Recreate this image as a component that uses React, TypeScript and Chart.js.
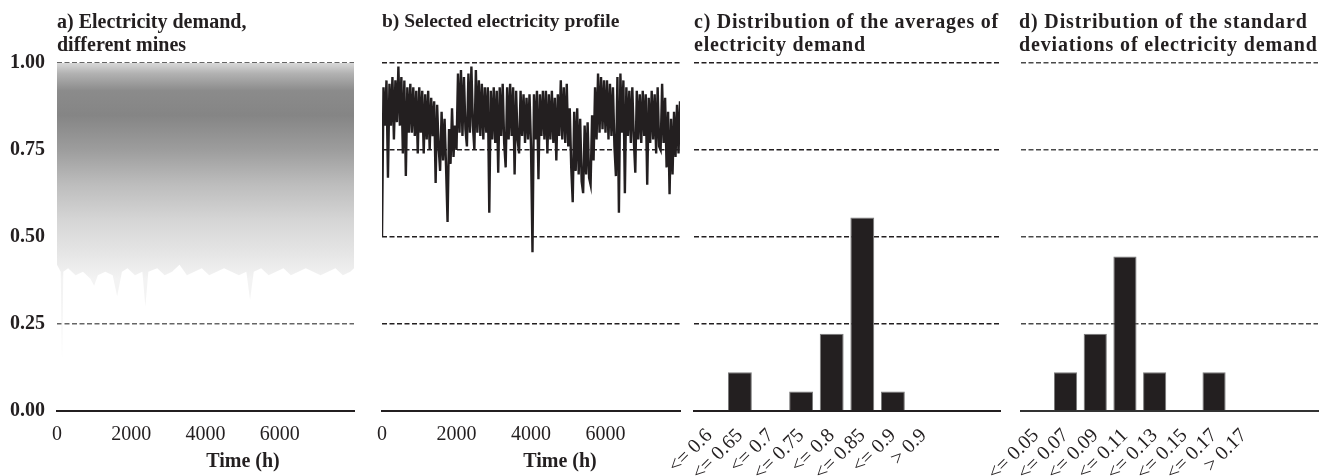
import React, { useEffect, useRef } from 'react';
import { Chart, registerables } from 'chart.js';

Chart.register(...registerables);

const FONT = "'Liberation Serif', 'Times New Roman', serif";
const INK = '#231f20';

// ---------- data ----------
const shareTicks = [0, 0.25, 0.5, 0.75, 1.0];
const timeTicks = [0, 2000, 4000, 6000];
const timeMax = 8000;

// a) envelope of all mine profiles (lower edge; upper edge is 1.0)
const envelopeHours = [0, 100, 135, 170, 300, 500, 700, 900, 1000, 1100, 1300, 1500, 1620, 1750, 1900, 2100, 2300, 2380, 2460, 2700, 2900, 3100, 3300, 3500, 3700, 3900, 4100, 4300, 4500, 4700, 4900, 5100, 5200, 5300, 5500, 5700, 5900, 6100, 6300, 6500, 6700, 6900, 7100, 7300, 7500, 7700, 7900, 8000];
const envelopeLow = [
  0.42, 0.40, 0.15, 0.40, 0.41,
  0.39, 0.40, 0.38, 0.36, 0.39,
  0.40, 0.39, 0.33, 0.40, 0.41,
  0.39, 0.40, 0.30, 0.40, 0.41,
  0.39, 0.40, 0.42, 0.39, 0.40,
  0.41, 0.39, 0.40, 0.41, 0.40,
  0.39, 0.40, 0.32, 0.40, 0.41,
  0.39, 0.40, 0.41, 0.39, 0.40,
  0.41, 0.40, 0.39, 0.40, 0.41,
  0.39, 0.40, 0.41,
];
const envelopeHigh = 1.0;
// gray density of the overlaid profiles (value, colour)
const densityStops: [number, string][] = [
  [0.38, '#f3f3f3'], [0.45, '#e6e6e6'], [0.55, '#d5d5d5'], [0.65, '#bdbdbd'],
  [0.75, '#9d9d9d'], [0.85, '#858585'], [0.92, '#8b8b8b'], [0.97, '#b2b2b2'], [1.0, '#d8d8d8'],
];
// individual light / dark profile traces inside the envelope (every 100 h)
const lightTraceStart = 0;
const darkTraceStart = 50;
const traceStepHours = 100;
const lightTrace = [
  1.0, 0.74, 1.0, 0.82, 1.0, 0.68, 1.0, 0.86, 1.0, 0.78,
  1.0, 0.64, 1.0, 0.84, 1.0, 0.72, 1.0, 0.88, 1.0, 0.70,
  1.0, 0.80, 1.0, 0.62, 1.0, 0.85, 1.0, 0.76, 1.0, 0.90,
  1.0, 0.66, 1.0, 0.82, 1.0, 0.74, 1.0, 0.87, 1.0, 0.69,
  1.0, 0.79, 1.0, 0.60, 1.0, 0.84, 1.0, 0.73, 1.0, 0.89,
  1.0, 0.67, 1.0, 0.81, 1.0, 0.75, 1.0, 0.86, 1.0, 0.63,
  1.0, 0.83, 1.0, 0.71, 1.0, 0.88, 1.0, 0.77, 1.0, 0.65,
  1.0, 0.85, 1.0, 0.72, 1.0, 0.80, 1.0, 0.68, 1.0, 0.84,
  1.0,
];
const darkTrace = [
  0.52, 0.93, 0.60, 0.90, 0.47, 0.95, 0.58, 0.91, 0.50, 0.94,
  0.62, 0.89, 0.45, 0.96, 0.55, 0.92, 0.49, 0.90, 0.61, 0.95,
  0.53, 0.91, 0.44, 0.94, 0.59, 0.89, 0.48, 0.96, 0.56, 0.92,
  0.63, 0.90, 0.46, 0.95, 0.54, 0.91, 0.51, 0.93, 0.60, 0.89,
  0.47, 0.96, 0.57, 0.92, 0.50, 0.90, 0.62, 0.94, 0.45, 0.91,
  0.55, 0.95, 0.49, 0.89, 0.58, 0.93, 0.52, 0.96, 0.46, 0.90,
  0.61, 0.92, 0.48, 0.95, 0.56, 0.91, 0.53, 0.94, 0.44, 0.89,
  0.59, 0.93, 0.50, 0.96, 0.57, 0.90, 0.47, 0.92, 0.54, 0.95,
];

// b) selected profile, one value every 40 h
const profileStepHours = 40;
const profileValues = [
  0.50, 0.93, 0.82, 0.95, 0.67, 0.94, 0.82, 0.96, 0.78, 0.95,
  0.83, 0.99, 0.82, 0.96, 0.74, 0.95, 0.675, 0.93, 0.80, 0.94,
  0.80, 0.93, 0.79, 0.92, 0.74, 0.93, 0.80, 0.92, 0.74, 0.91,
  0.78, 0.92, 0.75, 0.90, 0.79, 0.89, 0.655, 0.88, 0.76, 0.69,
  0.86, 0.72, 0.84, 0.70, 0.543, 0.81, 0.71, 0.87, 0.73, 0.82,
  0.75, 0.97, 0.80, 0.98, 0.79, 0.96, 0.81, 0.76, 0.97, 0.80,
  0.99, 0.82, 0.75, 0.98, 0.80, 0.95, 0.79, 0.94, 0.78, 0.93,
  0.80, 0.93, 0.57, 0.92, 0.78, 0.93, 0.77, 0.92, 0.685, 0.93,
  0.79, 0.94, 0.77, 0.70, 0.93, 0.78, 0.94, 0.79, 0.93, 0.68,
  0.92, 0.78, 0.74, 0.92, 0.79, 0.91, 0.77, 0.90, 0.78, 0.91,
  0.76, 0.456, 0.91, 0.78, 0.92, 0.666, 0.91, 0.79, 0.92, 0.78,
  0.92, 0.74, 0.91, 0.78, 0.92, 0.77, 0.90, 0.72, 0.91, 0.79,
  0.95, 0.78, 0.93, 0.77, 0.94, 0.76, 0.87, 0.70, 0.60, 0.86,
  0.69, 0.87, 0.68, 0.84, 0.66, 0.626, 0.82, 0.68, 0.83, 0.67,
  0.65, 0.85, 0.72, 0.93, 0.78, 0.97, 0.80, 0.96, 0.81, 0.95,
  0.80, 0.95, 0.78, 0.94, 0.79, 0.93, 0.76, 0.675, 0.96, 0.57,
  0.97, 0.80, 0.95, 0.626, 0.93, 0.79, 0.92, 0.77, 0.93, 0.78,
  0.685, 0.92, 0.78, 0.91, 0.77, 0.92, 0.79, 0.91, 0.65, 0.90,
  0.77, 0.92, 0.78, 0.91, 0.74, 0.93, 0.76, 0.75, 0.94, 0.77,
  0.90, 0.70, 0.86, 0.623, 0.84, 0.68, 0.86, 0.73, 0.88, 0.74,
  0.89,
];

// c) distribution of averages
const avgCategories = ['<= 0.6', '<= 0.65', '<= 0.7', '<= 0.75', '<= 0.8', '<= 0.85', '<= 0.9', '> 0.9', '', ''];
const avgShares = [null, 0.111, null, 0.056, 0.222, 0.556, 0.056, null, null, null];

// d) distribution of standard deviations
const sdCategories = ['<= 0.05', '<= 0.07', '<= 0.09', '<= 0.11', '<= 0.13', '<= 0.15', '<= 0.17', '> 0.17', '', ''];
const sdShares = [null, 0.111, 0.222, 0.444, 0.111, null, 0.111, null, null, null];

// ---------- helpers ----------
const H = 476;

function fixBottomAxis(s: any) {
  s.height = 65;
  s.paddingLeft = 0;
  s.paddingRight = 0;
  s.paddingTop = 0;
  s.paddingBottom = 0;
}

function shareAxis(gridColor: string, showLabels: boolean, widthFix?: number) {
  return {
    min: 0,
    max: 1,
    z: showLabels ? 1 : 0,
    afterBuildTicks: (s: any) => { s.ticks = shareTicks.map((v) => ({ value: v })); },
    afterFit: (s: any) => {
      if (widthFix !== undefined) s.width = widthFix;
      s.paddingTop = 0;
      s.paddingBottom = 0;
    },
    grid: {
      color: (c: any) => (c.tick && c.tick.value === 0 ? 'rgba(0,0,0,0)' : gridColor),
      lineWidth: 1.5,
      drawTicks: false,
    },
    border: { display: false, dash: [5, 2.5] },
    ticks: {
      display: showLabels,
      font: { family: FONT, size: 20, weight: 'bold' },
      color: INK,
      padding: 12,
      callback: (v: any) => Number(v).toFixed(2),
    },
  };
}

function timeAxis() {
  return {
    type: 'linear',
    min: 0,
    max: timeMax,
    afterBuildTicks: (s: any) => { s.ticks = timeTicks.map((v) => ({ value: v })); },
    afterFit: fixBottomAxis,
    grid: { display: false, drawTicks: false },
    border: { display: true, color: INK, width: 2 },
    ticks: {
      font: { family: FONT, size: 20 },
      color: INK,
      padding: 12,
      maxRotation: 0,
      autoSkip: false,
      callback: (v: any) => String(v),
    },
  };
}

function categoryAxis(baseColor: string) {
  return {
    afterFit: fixBottomAxis,
    grid: { display: false, drawTicks: false },
    border: { display: true, color: baseColor, width: 2 },
    ticks: {
      font: { family: FONT, size: 20 },
      color: INK,
      padding: 13,
      minRotation: 45,
      maxRotation: 45,
      autoSkip: false,
    },
  };
}

const basePlugins = { legend: { display: false }, tooltip: { enabled: false }, title: { display: false } };

function traceData(start: number, values: number[]) {
  return values.map((v, i) => ({ x: start + i * traceStepHours, y: v }));
}

function buildEnvelope(): any {
  return {
    type: 'line',
    data: {
      datasets: [
        {
          data: envelopeHours.map((h, i) => ({ x: h, y: envelopeLow[i] })),
          fill: { value: envelopeHigh },
          borderWidth: 0,
          pointRadius: 0,
          tension: 0,
          backgroundColor: (c: any) => {
            const chart = c.chart;
            if (!chart.chartArea) return '#b0b0b0';
            const y = chart.scales.y;
            const lo = densityStops[0][0];
            const hi = densityStops[densityStops.length - 1][0];
            const g = chart.ctx.createLinearGradient(0, y.getPixelForValue(lo), 0, y.getPixelForValue(hi));
            densityStops.forEach(([v, col]) => g.addColorStop((v - lo) / (hi - lo), col));
            return g;
          },
        },
        {
          data: traceData(lightTraceStart, lightTrace),
          borderColor: 'rgba(255,255,255,0.5)',
          borderWidth: 1.3,
          pointRadius: 0,
          tension: 0,
          fill: false,
        },
        {
          data: traceData(darkTraceStart, darkTrace),
          borderColor: 'rgba(70,70,70,0.28)',
          borderWidth: 1.3,
          pointRadius: 0,
          tension: 0,
          fill: false,
        },
      ],
    },
    options: {
      animation: false,
      responsive: false,
      layout: { padding: { left: 0, right: 16, top: 63, bottom: 0 } },
      plugins: basePlugins,
      scales: { x: timeAxis(), y: shareAxis('#666666', true, 57) },
    },
  };
}

function buildProfile(): any {
  return {
    type: 'line',
    data: {
      datasets: [{
        data: profileValues.map((v, i) => ({ x: i * profileStepHours, y: v })),
        borderColor: INK,
        borderWidth: 2.4,
        pointRadius: 0,
        tension: 0,
        fill: false,
      }],
    },
    options: {
      animation: false,
      responsive: false,
      layout: { padding: { left: 12, right: 10, top: 63, bottom: 0 } },
      plugins: basePlugins,
      scales: { x: timeAxis(), y: shareAxis(INK, false) },
    },
  };
}

function buildHistogram(labels: string[], values: (number | null)[], gridColor: string, baseColor: string, padLeft: number, padRight: number): any {
  return {
    type: 'bar',
    data: {
      labels,
      datasets: [{
        data: values,
        backgroundColor: INK,
        borderColor: '#7a7a7a',
        borderWidth: 1,
        barPercentage: 0.78,
        categoryPercentage: 1,
      }],
    },
    options: {
      animation: false,
      responsive: false,
      layout: { padding: { left: padLeft, right: padRight, top: 63, bottom: 0 } },
      plugins: basePlugins,
      scales: { x: categoryAxis(baseColor), y: shareAxis(gridColor, false) },
    },
  };
}

function ChartPanel({ left, width, build }: { left: number; width: number; build: () => any }) {
  const ref = useRef<HTMLCanvasElement>(null);
  useEffect(() => {
    const chart = new Chart(ref.current as HTMLCanvasElement, build());
    return () => chart.destroy();
  }, []);
  return (
    <canvas
      ref={ref}
      width={width}
      height={H}
      style={{ position: 'absolute', left, top: 0, width, height: H }}
    />
  );
}

const titleStyle: React.CSSProperties = {
  position: 'absolute',
  top: 10,
  fontFamily: FONT,
  fontWeight: 'bold',
  fontSize: 20,
  lineHeight: '22.5px',
  color: INK,
  whiteSpace: 'nowrap',
};

const axisTitleStyle: React.CSSProperties = {
  position: 'absolute',
  top: 450,
  width: 200,
  textAlign: 'center',
  fontFamily: FONT,
  fontWeight: 'bold',
  fontSize: 20,
  lineHeight: '20px',
  color: INK,
  whiteSpace: 'nowrap',
};

export default function App() {
  return (
    <div style={{ position: 'fixed', left: 0, top: 0, width: 1321, height: H, background: '#fff', overflow: 'hidden' }}>
      <ChartPanel left={0} width={370} build={buildEnvelope} />
      <ChartPanel left={370} width={320} build={buildProfile} />
      <ChartPanel left={640} width={370} build={() => buildHistogram(avgCategories, avgShares, INK, INK, 54, 10)} />
      <ChartPanel left={960} width={361} build={() => buildHistogram(sdCategories, sdShares, '#4a4a4a', '#333', 61, 3)} />

      <div style={{ ...titleStyle, left: 57 }}>a) Electricity demand,<br />different mines</div>
      <div style={{ ...titleStyle, left: 382, fontSize: 19.5 }}>b) Selected electricity profile</div>
      <div style={{ ...titleStyle, left: 694, letterSpacing: '0.75px' }}>c) Distribution of the averages of<br />electricity demand</div>
      <div style={{ ...titleStyle, left: 1019, letterSpacing: '0.85px' }}>d) Distribution of the standard<br />deviations of electricity demand</div>

      <div style={{ ...axisTitleStyle, left: 143 }}>Time (h)</div>
      <div style={{ ...axisTitleStyle, left: 460 }}>Time (h)</div>
    </div>
  );
}
